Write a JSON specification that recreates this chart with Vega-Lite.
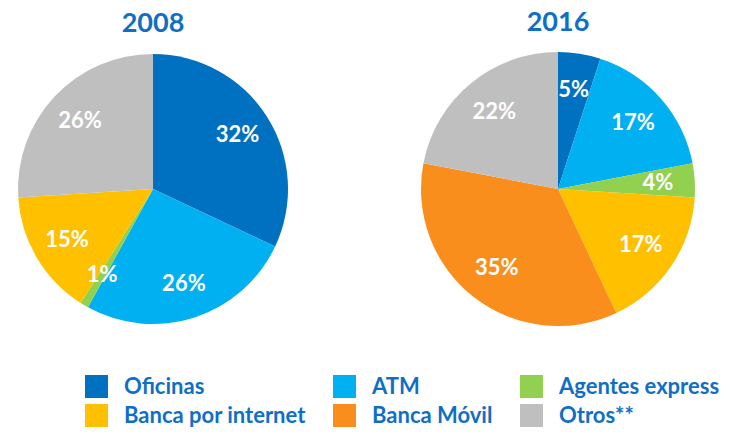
{
  "$schema": "https://vega.github.io/schema/vega-lite/v6.json",
  "background": "white",
  "padding": {"left": 17, "top": 9, "right": 5, "bottom": 5},
  "data": {"values": [
    {"year": "2008", "canal": "Oficinas", "ord": 1, "value": 0.32},
    {"year": "2008", "canal": "ATM", "ord": 2, "value": 0.26},
    {"year": "2008", "canal": "Agentes express", "ord": 3, "value": 0.01},
    {"year": "2008", "canal": "Banca por internet", "ord": 4, "value": 0.15},
    {"year": "2008", "canal": "Banca Móvil", "ord": 5, "value": 0.0},
    {"year": "2008", "canal": "Otros**", "ord": 6, "value": 0.26},
    {"year": "2016", "canal": "Oficinas", "ord": 1, "value": 0.05},
    {"year": "2016", "canal": "ATM", "ord": 2, "value": 0.17},
    {"year": "2016", "canal": "Agentes express", "ord": 3, "value": 0.04},
    {"year": "2016", "canal": "Banca por internet", "ord": 4, "value": 0.17},
    {"year": "2016", "canal": "Banca Móvil", "ord": 5, "value": 0.35},
    {"year": "2016", "canal": "Otros**", "ord": 6, "value": 0.22}
  ]},
  "spacing": 132,
  "hconcat": [
    {
      "title": "2008",
      "width": 272, "height": 272,
      "transform": [{"filter": "datum.year == '2008'"}],
      "encoding": {
        "theta": {"field": "value", "type": "quantitative", "stack": true},
        "order": {"field": "ord", "type": "quantitative"},
        "color": {"field": "canal", "type": "nominal",
          "scale": {"domain": ["Oficinas", "ATM", "Agentes express", "Banca por internet", "Banca Móvil", "Otros**"],
                    "range": ["#0070C0", "#00B0F0", "#92D050", "#FFC000", "#F98E1D", "#BFBFBF"]},
          "legend": {"title": null}}
      },
      "layer": [
        {"mark": {"type": "arc", "outerRadius": 135}},
        {"mark": {"type": "text", "radius": 100, "fontSize": 22, "fontWeight": "bold", "font": "Lato"},
         "transform": [{"filter": "datum.value > 0"}],
         "encoding": {"text": {"field": "value", "type": "quantitative", "format": ".0%"}, "color": {"value": "white"}}}
      ]
    },
    {
      "title": "2016",
      "width": 272, "height": 272,
      "transform": [{"filter": "datum.year == '2016'"}],
      "encoding": {
        "theta": {"field": "value", "type": "quantitative", "stack": true},
        "order": {"field": "ord", "type": "quantitative"},
        "color": {"field": "canal", "type": "nominal",
          "scale": {"domain": ["Oficinas", "ATM", "Agentes express", "Banca por internet", "Banca Móvil", "Otros**"],
                    "range": ["#0070C0", "#00B0F0", "#92D050", "#FFC000", "#F98E1D", "#BFBFBF"]},
          "legend": {"title": null}}
      },
      "layer": [
        {"mark": {"type": "arc", "outerRadius": 137}},
        {"mark": {"type": "text", "radius": 100, "fontSize": 22, "fontWeight": "bold", "font": "Lato"},
         "transform": [{"filter": "datum.value > 0"}],
         "encoding": {"text": {"field": "value", "type": "quantitative", "format": ".0%"}, "color": {"value": "white"}}}
      ]
    }
  ],
  "resolve": {"scale": {"color": "shared"}},
  "config": {
    "view": {"stroke": null},
    "title": {"font": "Lato", "fontSize": 27, "fontWeight": "bold", "color": "#0F6FC6", "anchor": "middle", "offset": 15},
    "legend": {
      "orient": "none", "legendX": 68, "legendY": 322,
      "direction": "horizontal", "columns": 3,
      "symbolType": "square", "symbolSize": 529, "symbolStrokeWidth": 0, "symbolOpacity": 1,
      "labelFont": "Lato", "labelFontSize": 22, "labelFontWeight": "bold", "labelColor": "#0F6FC6",
      "labelOffset": 16, "labelLimit": 300, "columnPadding": 27, "rowPadding": 6
    }
  }
}
